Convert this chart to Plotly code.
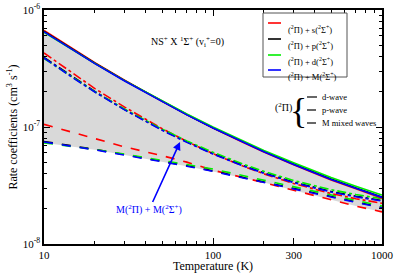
import plotly.graph_objects as go
import numpy as np

T = [10, 15, 20, 30, 50, 70, 100, 150, 200, 300, 500, 700, 1000]

# d-wave (solid)
d_s = [6.68e-7, 4.59e-7, 3.55e-7, 2.51e-7, 1.655e-7, 1.28e-7, 9.81e-8, 7.40e-8, 6.11e-8, 4.76e-8, 3.53e-8, 2.96e-8, 2.465e-8]
d_p = [6.57e-7, 4.53e-7, 3.51e-7, 2.49e-7, 1.655e-7, 1.28e-7, 9.87e-8, 7.47e-8, 6.19e-8, 4.83e-8, 3.59e-8, 3.01e-8, 2.52e-8]
d_d = [6.45e-7, 4.49e-7, 3.50e-7, 2.49e-7, 1.66e-7, 1.29e-7, 1.00e-7, 7.60e-8, 6.31e-8, 4.95e-8, 3.70e-8, 3.12e-8, 2.62e-8]
d_M = [6.50e-7, 4.49e-7, 3.48e-7, 2.47e-7, 1.64e-7, 1.27e-7, 9.79e-8, 7.41e-8, 6.14e-8, 4.79e-8, 3.56e-8, 2.99e-8, 2.50e-8]
# p-wave (dashed)
p_s = [1.054e-7, 8.91e-8, 7.94e-8, 6.76e-8, 5.69e-8, 5.01e-8, 4.27e-8, 3.72e-8, 3.35e-8, 2.88e-8, 2.37e-8, 2.11e-8, 1.88e-8]
p_p = [7.52e-8, 6.91e-8, 6.44e-8, 5.81e-8, 5.12e-8, 4.67e-8, 4.21e-8, 3.71e-8, 3.38e-8, 2.98e-8, 2.54e-8, 2.28e-8, 2.05e-8]
p_d = [7.32e-8, 6.79e-8, 6.42e-8, 5.86e-8, 5.21e-8, 4.78e-8, 4.37e-8, 3.84e-8, 3.51e-8, 3.09e-8, 2.62e-8, 2.35e-8, 2.11e-8]
p_M = [7.45e-8, 6.84e-8, 6.38e-8, 5.75e-8, 5.07e-8, 4.62e-8, 4.17e-8, 3.67e-8, 3.35e-8, 2.95e-8, 2.51e-8, 2.26e-8, 2.03e-8]
# M mixed waves (dash-dot)
m_s = [4.29e-7, 2.82e-7, 2.13e-7, 1.48e-7, 9.68e-8, 7.53e-8, 5.91e-8, 4.64e-8, 3.98e-8, 3.29e-8, 2.70e-8, 2.44e-8, 2.23e-8]
m_p = [3.93e-7, 2.63e-7, 2.01e-7, 1.41e-7, 9.46e-8, 7.46e-8, 5.93e-8, 4.71e-8, 4.06e-8, 3.38e-8, 2.81e-8, 2.56e-8, 2.35e-8]
m_d = [3.85e-7, 2.60e-7, 2.00e-7, 1.42e-7, 9.59e-8, 7.60e-8, 6.08e-8, 4.84e-8, 4.18e-8, 3.49e-8, 2.91e-8, 2.65e-8, 2.44e-8]
m_M = [3.89e-7, 2.60e-7, 1.99e-7, 1.40e-7, 9.37e-8, 7.39e-8, 5.87e-8, 4.66e-8, 4.02e-8, 3.35e-8, 2.78e-8, 2.53e-8, 2.33e-8]

legend_names = ["(<sup>2</sup>Π) + s(<sup>2</sup>Σ<sup>+</sup>)",
                "(<sup>2</sup>Π) + p(<sup>2</sup>Σ<sup>+</sup>)",
                "(<sup>2</sup>Π) + d(<sup>2</sup>Σ<sup>+</sup>)",
                "(<sup>2</sup>Π) + M(<sup>2</sup>Σ<sup>+</sup>)"]
colors = ["#ff0000", "#000000", "#00ee00", "#0000ff"]

x_tickvals = [10, 100, 300, 1000]
x_ticktext = ["10", "100", "300", "1000"]
y_tickvals = [1e-8, 1e-7, 1e-6]
y_ticktext = ["10<sup>-8</sup>", "10<sup>-7</sup>", "10<sup>-6</sup>"]

FONT = "Liberation Serif, Times New Roman, serif"

# plot-area geometry in pixels (for placing decorations only)
L, R, TOP, BOT = 44, 382, 10, 244
def px(x):
    return (x - L) / (R - L)
def py(y):
    return (BOT - y) / (BOT - TOP)

all_series = np.array([d_s, d_p, d_d, d_M, p_s, p_p, p_d, p_M, m_s, m_p, m_d, m_M])
upper = all_series.max(axis=0)
lower = all_series.min(axis=0)

fig = go.Figure()
fig.add_trace(go.Scatter(x=T, y=lower, mode="lines", line=dict(width=0), showlegend=False, hoverinfo="skip"))
fig.add_trace(go.Scatter(x=T, y=upper, mode="lines", line=dict(width=0), fill="tonexty",
                         fillcolor="#d9d9d9", showlegend=False, hoverinfo="skip"))

groups = [([p_s, p_p, p_d, p_M], "dash"), ([m_s, m_p, m_d, m_M], "dashdot"), ([d_s, d_p, d_d, d_M], "solid")]
for series, dash in groups:
    for i, ys in enumerate(series):
        fig.add_trace(go.Scatter(x=T, y=ys, mode="lines", line=dict(color=colors[i], width=1.6, dash=dash),
                                 name=legend_names[i], showlegend=False))

axis_common = dict(type="log", showgrid=False, zeroline=False, showline=True, linecolor="black", linewidth=1.5,
                   mirror="allticks", ticks="inside", ticklen=6, tickcolor="black", tickwidth=1,
                   automargin=False,
                   tickfont=dict(family=FONT, size=11, color="black"),
                   minor=dict(ticks="inside", ticklen=3, tickcolor="black", dtick="D1", showgrid=False))

fig.update_xaxes(**axis_common, range=[1, 3], tickmode="array", tickvals=x_tickvals, ticktext=x_ticktext,
                 title=dict(text="Temperature (K)", font=dict(family=FONT, size=12, color="black"), standoff=4))
fig.update_yaxes(**axis_common, range=[-8, -6], tickmode="array", tickvals=y_tickvals, ticktext=y_ticktext,
                 title=dict(text="Rate coefficients (cm<sup>3</sup> s<sup>-1</sup>)",
                            font=dict(family=FONT, size=12, color="black"), standoff=2))

fig.update_layout(
    width=395, height=273,
    margin=dict(l=L, r=395 - R, t=TOP, b=273 - BOT),
    plot_bgcolor="white", paper_bgcolor="white",
    showlegend=False,
)

# legend box (manual)
fig.add_shape(type="rect", xref="paper", yref="paper", x0=px(263), x1=px(347), y0=py(77), y1=py(13),
              line=dict(color="#555555", width=1), fillcolor="white", layer="above")
for i, (ypix, name) in enumerate(zip([23, 39, 55, 70], legend_names)):
    fig.add_shape(type="line", xref="paper", yref="paper", x0=px(268), x1=px(281), y0=py(ypix), y1=py(ypix),
                  line=dict(color=colors[i], width=1.6), layer="above")
    fig.add_annotation(x=px(286), y=py(ypix - 1.5), xref="paper", yref="paper", xanchor="left", showarrow=False,
                       text=name, font=dict(family=FONT, size=8.5, color="black"))

# title annotation
fig.add_annotation(x=px(187), y=py(33), xref="paper", yref="paper", showarrow=False,
                   text="NS<sup>+</sup> X <sup>1</sup>Σ<sup>+</sup> (v<sub>i</sub><sup>+</sup>=0)",
                   font=dict(family=FONT, size=10, color="black"))

# line style key
key_rows = [(97, "solid", "d-wave"), (110, "dash", "p-wave"), (123, "dashdot", "M mixed waves")]
for ypix, dash, label in key_rows:
    fig.add_shape(type="line", xref="paper", yref="paper", x0=px(307), x1=px(317), y0=py(ypix), y1=py(ypix),
                  line=dict(color="black", width=1.2, dash=dash))
    fig.add_annotation(x=px(320), y=py(ypix), xref="paper", yref="paper", xanchor="left", showarrow=False,
                       text=label, font=dict(family=FONT, size=8.5, color="black"))
fig.add_annotation(x=px(294), y=py(108), xref="paper", yref="paper", xanchor="right",
                   showarrow=False, text="(<sup>2</sup>Π)", font=dict(family=FONT, size=10, color="black"))
fig.add_annotation(x=px(309), y=py(111), xref="paper", yref="paper",
                   showarrow=False, text="{", font=dict(family=FONT, size=36, color="black"))

# arrow
fig.add_annotation(x=np.log10(63.8), y=np.log10(7.45e-8), xref="x", yref="y",
                   text="M(<sup>2</sup>Π) + M(<sup>2</sup>Σ<sup>+</sup>)", showarrow=True,
                   arrowhead=2, arrowsize=1, arrowwidth=1.6, arrowcolor="#0000ff",
                   ax=-31, ay=68, font=dict(family=FONT, size=10, color="#0000ff"))

fig.write_html("out.html", config={"displayModeBar": False},
               post_script="document.body.style.margin='0px';")
